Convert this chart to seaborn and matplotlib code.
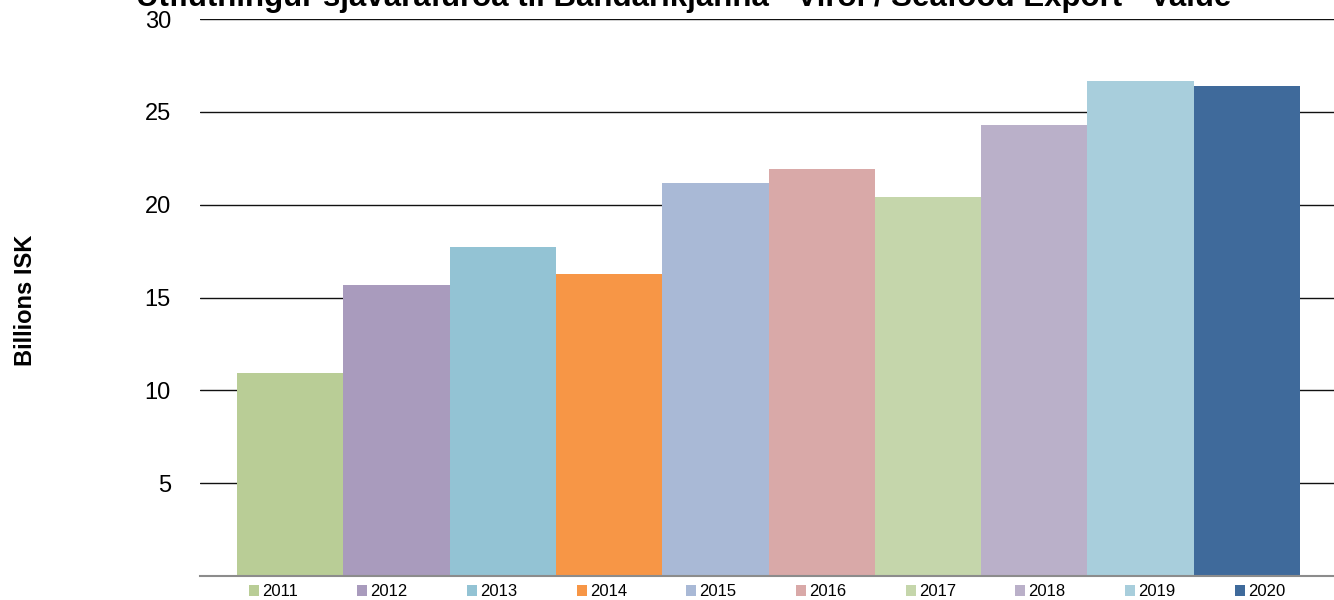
import pandas as pd
import seaborn as sns
import matplotlib.pyplot as plt

# --- Data ---
years = ["2011", "2012", "2013", "2014", "2015", "2016", "2017", "2018", "2019", "2020"]
values = [10.93, 15.67, 17.72, 16.26, 21.16, 21.92, 20.41, 24.29, 26.66, 26.39]
colors = ["#B9CD96", "#A99BBD", "#93C3D4", "#F79646", "#A9B9D6",
          "#D9A9A8", "#C5D6AB", "#BAB0C9", "#A8CEDC", "#3F6A9B"]

title = "Útflutningur sjávarafurða til Bandaríkjanna - Virði / Seafood Export - Value"
y_label = "Billions ISK"

df = pd.DataFrame({"year": years, "value": values})

# --- Style ---
sns.set_style("white")
plt.rcParams["font.family"] = ["Liberation Sans", "DejaVu Sans"]
plt.rcParams["text.color"] = "black"
plt.rcParams["ytick.color"] = "black"

fig = plt.figure(figsize=(13.34, 6), dpi=100)
ax = fig.add_axes([200 / 1334, 24 / 600, 1134 / 1334, 557 / 600])

sns.barplot(data=df, x="year", y="value", hue="year", palette=colors,
            width=1.0, dodge=False, saturation=1, legend=True, linewidth=0,
            ax=ax)

ax.set_ylim(0, 30)
ax.set_xlim(-0.85, 9.82)
ax.set_yticks([5, 10, 15, 20, 25, 30])
ax.tick_params(axis="y", labelsize=17, length=0, pad=21, labelcolor="black")
ax.set_xticks([])
ax.set_xlabel("")
ax.set_ylabel("")
ax.yaxis.grid(True, color="#111111", linewidth=1)
ax.set_axisbelow(True)
for side in ["top", "right", "left"]:
    ax.spines[side].set_visible(False)
ax.spines["bottom"].set_color("#8c8c8c")
ax.spines["bottom"].set_linewidth(1.5)

fig.text(26 / 1334, 0.5, y_label, rotation=90, ha="center", va="center",
         fontsize=17, fontweight="bold", color="black")
fig.text(684 / 1334, 594 / 600, title, ha="center", va="baseline",
         fontsize=22.5, fontweight="bold", color="black")

leg = ax.legend(loc="upper center", bbox_to_anchor=(0.5, -0.003), ncol=10,
                frameon=False, fontsize=12, handlelength=0.6, handleheight=0.6,
                handletextpad=0.2, columnspacing=3.55, borderaxespad=0)
for t in leg.get_texts():
    t.set_color("black")

plt.savefig("out.png", dpi=100)
plt.close()
